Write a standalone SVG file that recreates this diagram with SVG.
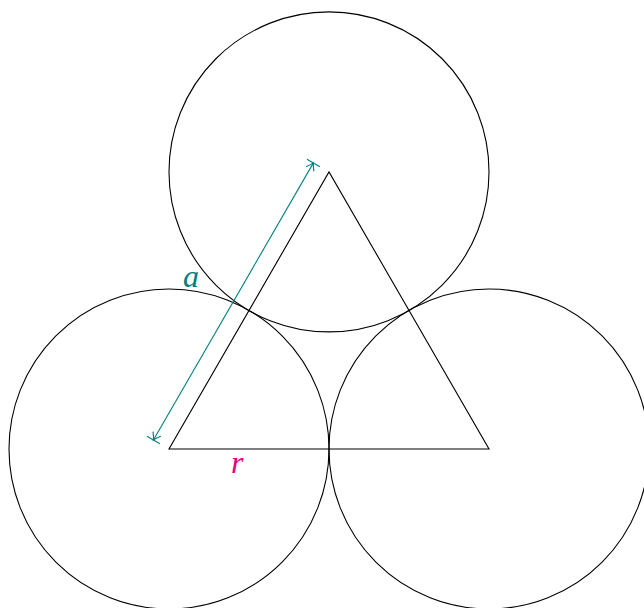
<svg xmlns="http://www.w3.org/2000/svg" width="644" height="608" viewBox="0 0 644 608">
<style>
.c{fill:none;stroke:#000;stroke-width:1.1}
.dim{fill:none;stroke:#008080;stroke-width:1.1}
.lbl{font-family:"Liberation Serif",serif;font-style:italic;font-size:32px}
</style>
<defs>
<marker id="tip" markerUnits="userSpaceOnUse" markerWidth="24" markerHeight="24" refX="0" refY="0" viewBox="-12 -12 24 24" orient="auto-start-reverse" overflow="visible">
<path d="M-7,-4.5 Q-2.5,-1 0,0 Q-2.5,1 -7,4.5" fill="none" stroke="#008080" stroke-width="1.2"/>
</marker>
</defs>
<rect width="644" height="608" fill="#fff"/>
<g id="circle-top"><circle class="c" cx="329" cy="171.9" r="160"/></g>
<g id="circle-left"><circle class="c" cx="169" cy="449" r="160"/></g>
<g id="circle-right"><circle class="c" cx="489" cy="449" r="160"/></g>
<g id="triangle"><path class="c" d="M169,449 L489,449 L329,171.9 Z"/></g>
<g id="connectors">
<path class="dim" d="M153.4,440 L313.4,162.9" marker-start="url(#tip)" marker-end="url(#tip)"/>
<path class="dim" d="M306.9,159.2 L319.9,166.7 M146.9,436.2 L159.9,443.8"/>
</g>
<g id="label-a"><text class="lbl" x="183" y="287" fill="#008080">a</text></g>
<g id="label-r"><text class="lbl" x="231" y="473" fill="#e6007e">r</text></g>
</svg>
